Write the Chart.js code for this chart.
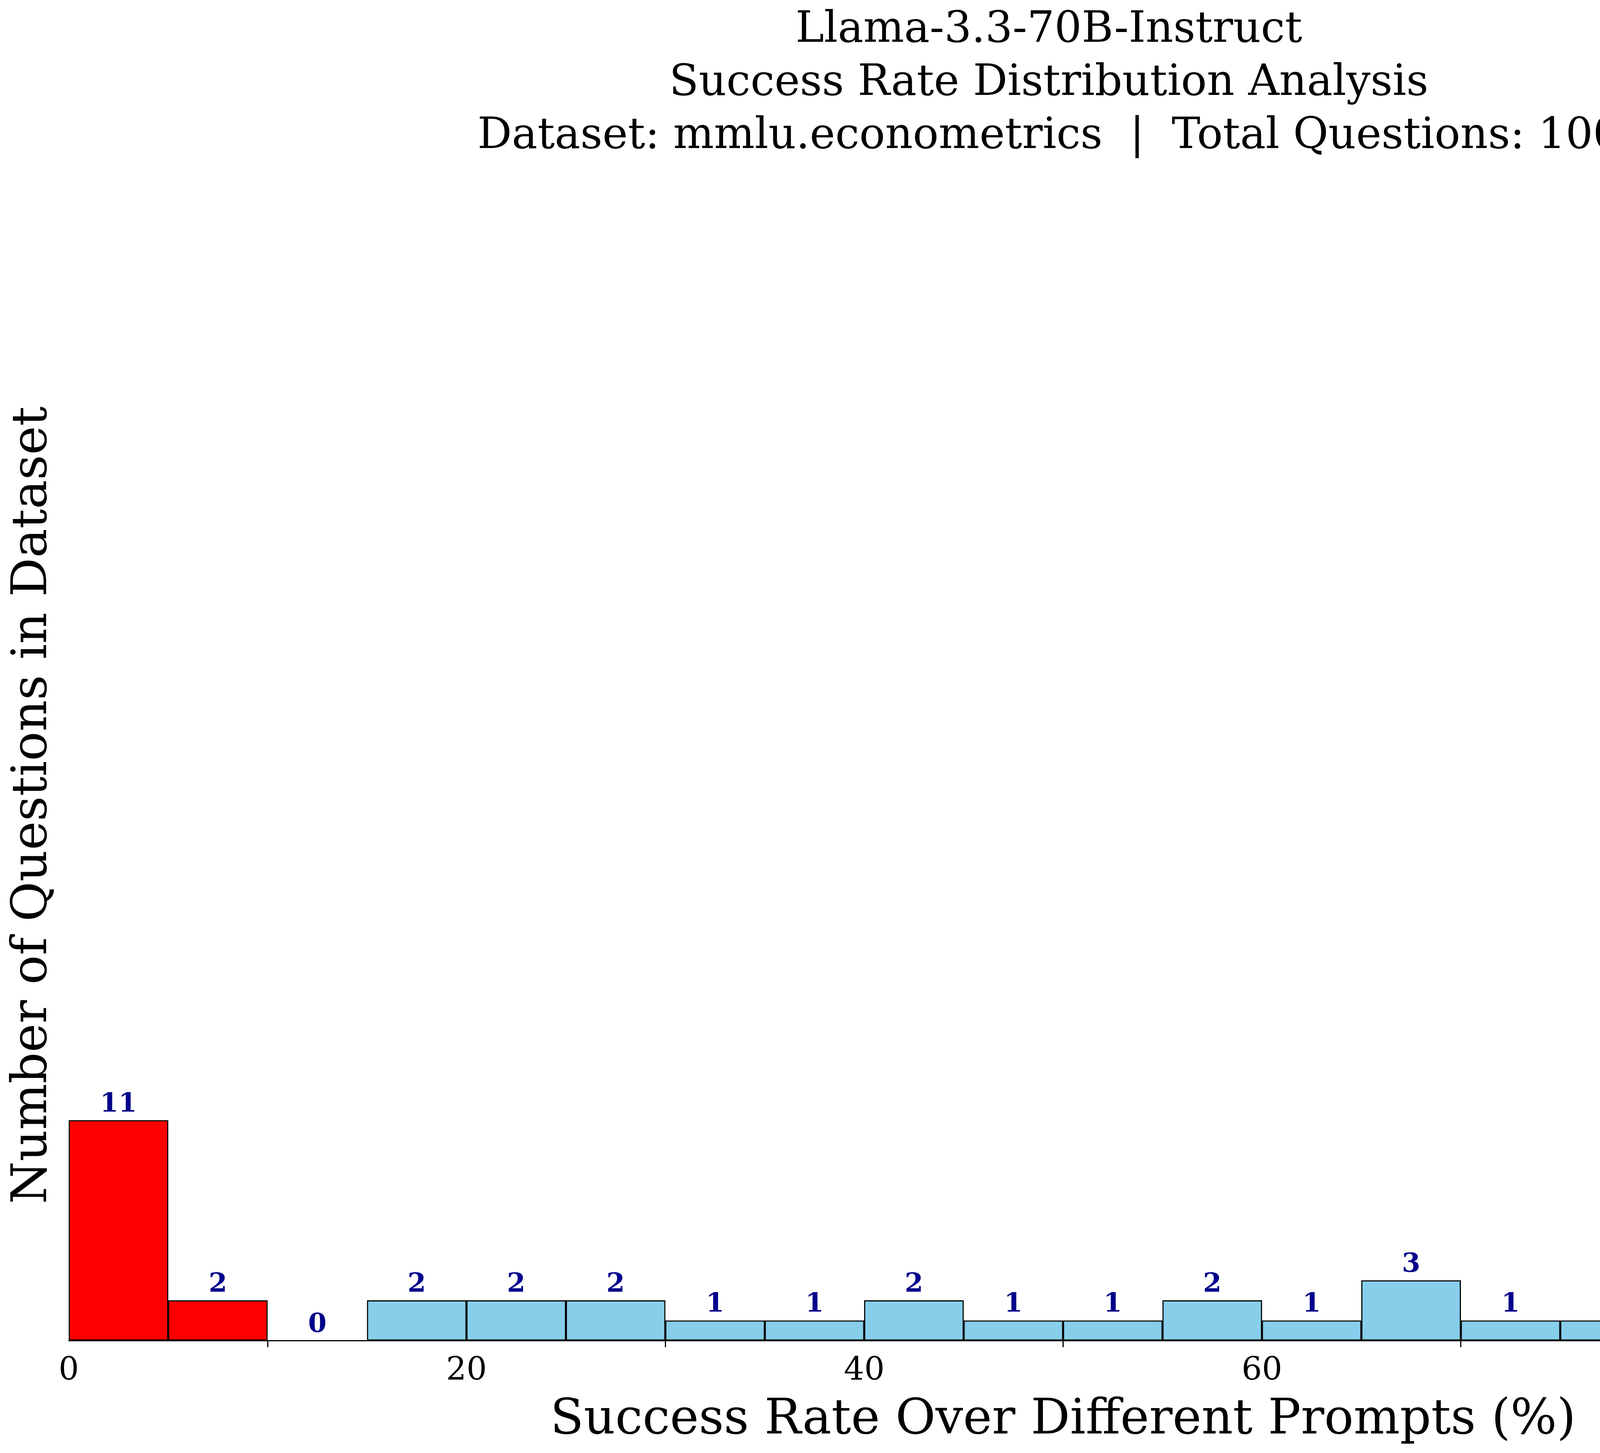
<!DOCTYPE html>
<html>
<head>
<meta charset="utf-8">
<script src="https://cdn.jsdelivr.net/npm/chart.js@4/dist/chart.umd.min.js"></script>
<style>
  html, body { margin: 0; padding: 0; background: #fff; overflow: hidden; }
  #wrap { width: 5370px; height: 3720px; }
  #chart { width: 5370px; height: 3720px; display: block; }
</style>
</head>
<body>
<div id="wrap"><canvas id="chart" width="5370" height="3720"></canvas></div>
<script>
// bins are 5% wide, value is the bin centre
let binCenters = [2.5, 7.5, 12.5, 17.5, 22.5, 27.5, 32.5, 37.5, 42.5, 47.5,
  52.5, 57.5, 62.5, 67.5, 72.5, 77.5, 82.5, 87.5, 92.5, 97.5];
let counts = [11, 2, 0, 2, 2, 2, 1, 1, 2, 1, 1, 2, 1, 3, 1, 1, 3, 3, 6, 55];
let xTicks = [0, 20, 40, 60, 80, 100];
let titleLines = [
  "Llama-3.3-70B-Instruct",
  "Success Rate Distribution Analysis",
  "Dataset: mmlu.econometrics  |  Total Questions: 100"
];

function binColor(c) {
  if (c < 10) return "#FF0000";
  if (c > 90) return "#008000";
  return "#87CEEB";
}

let serif = "'DejaVu Serif', serif";

let textPlugin = {
  id: "texts",
  afterDraw(chart) {
    let ctx = chart.ctx;
    let xs = chart.scales.x, ys = chart.scales.y;
    ctx.save();
    // titles
    ctx.fillStyle = "#000";
    ctx.textAlign = "center";
    ctx.textBaseline = "middle";
    ctx.font = "110px " + serif;
    titleLines.forEach((t, i) => ctx.fillText(t, 2685, 78 + i * 136));
    // bar labels
    ctx.fillStyle = "#00008B";
    ctx.font = "bold 68px " + serif;
    ctx.textBaseline = "bottom";
    counts.forEach((v, i) => {
      ctx.fillText(String(v), xs.getPixelForValue(binCenters[i]), ys.getPixelForValue(v) - 6);
    });
    // axis titles
    ctx.fillStyle = "#000";
    ctx.textBaseline = "middle";
    ctx.font = "125px " + serif;
    ctx.fillText("Success Rate Over Different Prompts (%)", (xs.left + xs.right) / 2, 3638);
    ctx.translate(86, (ys.top + ys.bottom) / 2 + 110);
    ctx.rotate(-Math.PI / 2);
    ctx.fillText("Number of Questions in Dataset", 0, 0);
    ctx.restore();
  }
};

let chartdata = {
  datasets: [{
    data: binCenters.map((c, i) => ({ x: c, y: counts[i] })),
    backgroundColor: binCenters.map(binColor),
    borderColor: "#000",
    borderWidth: 3,
    barPercentage: 1,
    categoryPercentage: 1,
    borderSkipped: false
  }]
};

new Chart(document.getElementById("chart"), {
  type: "bar",
  data: chartdata,
  plugins: [textPlugin],
  options: {
    responsive: false,
    devicePixelRatio: 1,
    animation: false,
    layout: { padding: { left: 176, right: 103, top: 471, bottom: 0 } },
    plugins: { legend: { display: false }, tooltip: { enabled: false } },
    scales: {
      x: {
        type: "linear",
        min: 0, max: 100,
        offset: false,
        afterFit: (s) => { s.height = 3720 - 3432; },
        afterBuildTicks: (s) => { s.ticks = xTicks.map((v) => ({ value: v })); },
        ticks: { color: "#000", font: { family: serif, size: 82 }, padding: 14, maxRotation: 0 },
        grid: { drawOnChartArea: false, drawTicks: true, tickLength: 17, color: "#000", lineWidth: 3 },
        border: { display: true, color: "#000", width: 3 }
      },
      y: {
        display: false,
        min: 0, max: 57.75
      }
    }
  }
});
</script>
</body>
</html>
